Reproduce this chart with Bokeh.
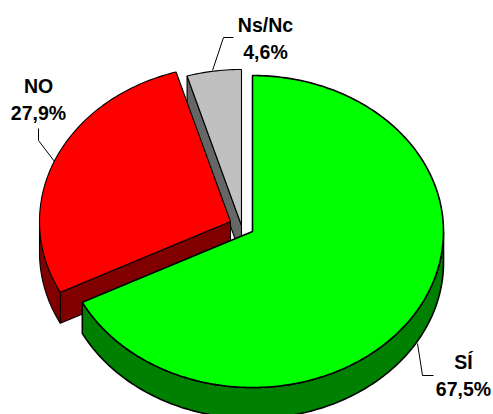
import numpy as np
from bokeh.plotting import figure
from bokeh.models import Range1d
from bokeh.embed import file_html
from bokeh.resources import INLINE
from bokeh.core.properties import value

categories = ["SÍ", "NO", "Ns/Nc"]
percent = [67.5, 27.9, 4.6]
percent_labels = ["67,5%", "27,9%", "4,6%"]
top_colors = ["#00FF00", "#FF0000", "#C0C0C0"]
side_colors = ["#008000", "#800000", "#666666"]

# apex of each exploded slice, in page pixels
apex = [(252, 231), (230, 221), (241, 225)]
RX, RY, DEPTH = 191, 156, 31

label_xy = [(463, 361), (38, 85), (265, 24)]
leaders = [
    ([417, 422, 433], [343, 375, 375]),
    ([54, 38, 38], [161, 140, 128]),
    ([212, 223, 233], [70, 37, 37]),
]

p = figure(width=493, height=414, output_backend="svg", toolbar_location=None,
           x_range=Range1d(0, 493), y_range=Range1d(414, 0),
           min_border=0, min_border_left=0, min_border_right=0,
           min_border_top=0, min_border_bottom=0)
p.axis.visible = False
p.grid.visible = False
p.outline_line_color = None
p.background_fill_color = "white"


def arc(c, a0, a1):
    t = np.radians(np.arange(a0, a1, 1.0).tolist() + [a1])
    return c[0] + RX * np.sin(t), c[1] - RY * np.cos(t)


# angle ranges, clockwise from 12 o'clock
edges = np.concatenate([[0], np.cumsum(percent)]) * 3.6

order = [2, 1, 0]  # back to front
for i in order:
    a0, a1 = edges[i], edges[i + 1]
    c = apex[i]
    lw = 1.6 if i == 0 else 1.1
    # cut face along the slice's first edge (visible for NO and Ns/Nc)
    if i != 0:
        x1, y1 = arc(c, a0, a0)
        ex = [c[0], x1[0], x1[0], c[0]]
        ey = [c[1], y1[0], y1[0] + DEPTH, c[1] + DEPTH]
        p.patch(ex, ey, fill_color=side_colors[i], line_color="black", line_width=lw)
    # outer rim: only the part of the arc that faces the viewer
    r0, r1 = max(a0, 90), min(a1, 270)
    if r1 > r0:
        rx, ry = arc(c, r0, r1)
        p.patch(np.concatenate([rx, rx[::-1]]), np.concatenate([ry, ry[::-1] + DEPTH]),
                fill_color=side_colors[i], line_color="black", line_width=lw)
    # top face
    tx, ty = arc(c, a0, a1)
    p.patch(np.concatenate([[c[0]], tx]), np.concatenate([[c[1]], ty]),
            fill_color=top_colors[i], line_color="black", line_width=lw)

for (lx, ly) in leaders:
    p.line(lx, ly, line_color="black", line_width=1)

for i in range(3):
    x, y = label_xy[i]
    p.text([x], [y], text=[categories[i]], text_font=value("Liberation Sans"),
           text_font_style="bold", text_font_size="19.5px", text_align="center",
           text_baseline="middle", text_color="black")
    p.text([x], [y + 27], text=[percent_labels[i]], text_font=value("Liberation Sans"),
           text_font_style="bold", text_font_size="19.5px", text_align="center",
           text_baseline="middle", text_color="black")

open("out.html", "w").write(file_html(p, INLINE))
